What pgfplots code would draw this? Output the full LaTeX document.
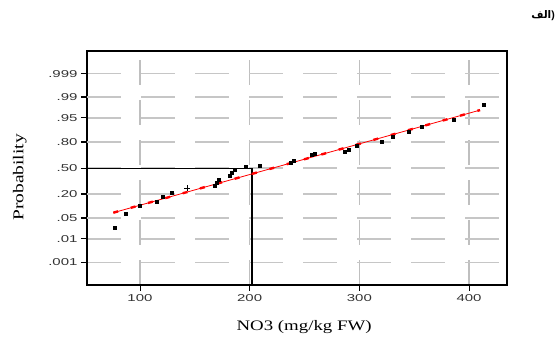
\documentclass[border=0pt]{standalone}
\usepackage{pgfplots}
\pgfplotsset{compat=1.18}
\usepackage{fontspec}
\setmainfont{Liberation Serif}
\newfontfamily\labelfont[FakeStretch=1.3]{Liberation Serif}
\newfontfamily\tickfont[FakeStretch=1.5]{Liberation Sans}
\newfontfamily\latinbold{Liberation Sans}
\newfontfamily\arabicfont[Script=Arabic]{DejaVu Sans}
\TeXXeTstate=1
\begin{document}
\begin{tikzpicture}[x=1pt,y=1pt]
\useasboundingbox (0,0) rectangle (557,339);
\node[anchor=east, inner sep=0pt] at (555,323) {{\arabicfont\bfseries\fontsize{10.5}{10.5}\selectfont\beginR الف\endR}{\latinbold\bfseries\fontsize{10.5}{10.5}\selectfont)}};
\begin{axis}[
  at={(87pt,54pt)}, anchor=south west,
  scale only axis, width=420pt, height=234pt,
  xmin=51.7, xmax=434.6, ymin=-3.84, ymax=3.84,
  axis line style={line width=1.2pt, black},
  xtick={100,200,300,400},
  ytick={-3.0902,-2.3263,0,1.6449,3.0902},
  yticklabels={.001,.01,.50,.95,.999},
  extra y ticks={-1.6449,-0.8416,0.8416,2.3263},
  extra y tick labels={.05,.20,.80,.99},
  extra y tick style={
    major y grid style={gray!45, line width=2.2pt, dash pattern=on 34pt off 20pt},
    major tick style={line width=1.8pt, black}},
  xtick pos=bottom, ytick pos=left,
  xmajorgrids, ymajorgrids,
  major x grid style={gray!50, line width=1.3pt, dash pattern=on 25pt off 15pt},
  major y grid style={gray!45, line width=1.3pt, dash pattern=on 34pt off 20pt},
  tick align=outside,
  major tick length=6pt,
  major tick style={line width=0.9pt, black},
  /pgf/number format/assume math mode=true,
  ticklabel style={font=\tickfont\fontsize{10}{10}\selectfont, text=black!80},
  xlabel={NO3 (mg/kg FW)},
  ylabel={Probability},
  every axis x label/.style={at={(axis description cs:0.517,-0.18)}, anchor=center,
    font=\labelfont\fontsize{14.5}{14.5}\selectfont},
  every axis y label/.style={at={(axis description cs:-0.16,0.46)}, rotate=90, anchor=center,
    font=\labelfont\fontsize{15}{15}\selectfont},
  clip=false,
]
% reference lines at the median
\addplot[black, line width=0.9pt] coordinates {(53,0) (202,0)};
\addplot[black, line width=1.8pt] coordinates {(202,-3.84) (202,0)};
% fitted line
\addplot[red, line width=0.8pt] coordinates {(75.7,-1.467) (410,1.90)};
\addplot[red, line width=2.4pt, dash pattern=on 5pt off 13pt] coordinates {(75.7,-1.467) (410,1.90)};
% data
\addplot[only marks, mark=square*, mark size=1.5pt, black] coordinates {
(77,-1.96) (87,-1.49) (100,-1.25) (115,-1.11) (121,-0.93) (129,-0.81)
(168,-0.58) (170,-0.49) (172,-0.40) (182,-0.24) (184,-0.14) (186,-0.07)
(196,0.03) (209,0.07) (237,0.17) (240,0.25) (257,0.42) (259,0.48)
(287,0.54) (290,0.61) (298,0.74) (320,0.86) (330,1.03) (345,1.19)
(357,1.36) (386,1.60) (413,2.07)
};
\addplot[only marks, mark=+, mark size=3pt, black, line width=0.8pt] coordinates {(143,-0.67)};
\end{axis}
\end{tikzpicture}
\end{document}
